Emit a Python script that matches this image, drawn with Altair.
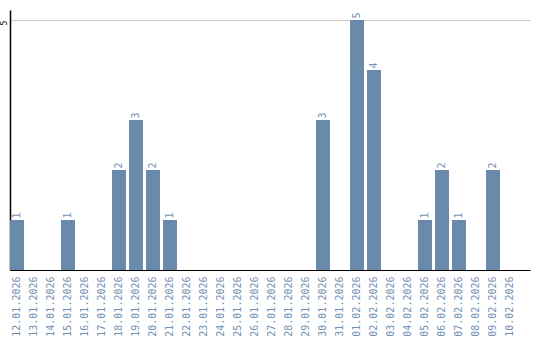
import altair as alt
import pandas as pd

dates = ["12.01.2026", "13.01.2026", "14.01.2026", "15.01.2026", "16.01.2026",
         "17.01.2026", "18.01.2026", "19.01.2026", "20.01.2026", "21.01.2026",
         "22.01.2026", "23.01.2026", "24.01.2026", "25.01.2026", "26.01.2026",
         "27.01.2026", "28.01.2026", "29.01.2026", "30.01.2026", "31.01.2026",
         "01.02.2026", "02.02.2026", "03.02.2026", "04.02.2026", "05.02.2026",
         "06.02.2026", "07.02.2026", "08.02.2026", "09.02.2026", "10.02.2026"]
counts = [1, 0, 0, 1, 0, 0, 2, 3, 2, 1,
          0, 0, 0, 0, 0, 0, 0, 0, 3, 0,
          5, 4, 0, 0, 1, 2, 1, 0, 2, 0]

df = pd.DataFrame({"date": dates, "count": counts})

BAR = "#6a8aab"
TXT = "#7190b2"
FONT = "DejaVu Sans Mono"

x = alt.X("date:N", sort=None, title=None,
          scale=alt.Scale(paddingInner=0.1765, paddingOuter=0.382, align=0),
          axis=alt.Axis(labelAngle=270, labelAlign="right", labelBaseline="middle",
                        labelPadding=6, ticks=False, domainColor="black",
                        labelColor=TXT, labelFont=FONT, labelFontSize=10,
                        labelOverlap=False, grid=False))
y = alt.Y("count:Q", title=None,
          scale=alt.Scale(domain=[0, 5.2], nice=False),
          axis=alt.Axis(values=[5], labelAngle=270, labelAlign="center",
                        labelBaseline="bottom", labelPadding=2, labelOffset=2.5,
                        ticks=False, domainColor="black", domainWidth=1.5,
                        labelColor="black", labelFont=FONT, labelFontSize=8,
                        grid=True, gridColor="#cccccc"))

bars = alt.Chart(df).mark_bar(color=BAR).encode(x=x, y=y)
labels = alt.Chart(df).transform_filter("datum.count > 0").mark_text(
    angle=270, align="left", baseline="middle", dx=1.5, color=TXT, font=FONT, fontSize=10
).encode(x=alt.X("date:N", sort=None), y="count:Q", text="count:Q")

chart = (bars + labels).properties(
    width=520, height=260,
    autosize=alt.AutoSizeParams(type="none"),
    padding={"left": 10, "top": 10, "right": 10, "bottom": 70},
).configure_view(stroke=None)

chart.save("out.html", embed_options={"renderer": "svg", "actions": False})
